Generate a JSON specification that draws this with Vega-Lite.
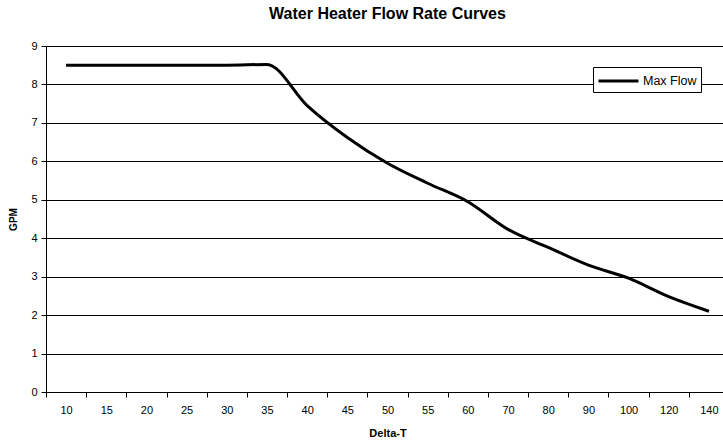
{
  "$schema": "https://vega.github.io/schema/vega-lite/v6.json",
  "width": 683,
  "height": 346,
  "autosize": "none",
  "padding": {"left": 46, "top": 46, "right": 0, "bottom": 48},
  "background": "white",
  "title": {
    "text": "Water Heater Flow Rate Curves",
    "font": "Liberation Sans",
    "fontSize": 16,
    "fontWeight": "bold",
    "color": "black",
    "anchor": "middle",
    "baseline": "alphabetic",
    "offset": 5
  },
  "config": {
    "view": {"stroke": null},
    "axis": {
      "labelFont": "Liberation Sans",
      "labelFontSize": 11,
      "labelColor": "black",
      "titleFont": "Liberation Sans",
      "titleFontSize": 11,
      "titleFontWeight": "bold",
      "titleColor": "black",
      "domainColor": "black",
      "tickColor": "black",
      "tickSize": 5
    }
  },
  "data": {
    "values": [
      {"dt": 10, "gpm": 8.5, "series": "Max Flow"},
      {"dt": 15, "gpm": 8.5, "series": "Max Flow"},
      {"dt": 20, "gpm": 8.5, "series": "Max Flow"},
      {"dt": 25, "gpm": 8.5, "series": "Max Flow"},
      {"dt": 30, "gpm": 8.5, "series": "Max Flow"},
      {"dt": 35, "gpm": 8.52, "series": "Max Flow"},
      {"dt": 40, "gpm": 7.45, "series": "Max Flow"},
      {"dt": 45, "gpm": 6.62, "series": "Max Flow"},
      {"dt": 50, "gpm": 5.95, "series": "Max Flow"},
      {"dt": 55, "gpm": 5.43, "series": "Max Flow"},
      {"dt": 60, "gpm": 4.95, "series": "Max Flow"},
      {"dt": 70, "gpm": 4.23, "series": "Max Flow"},
      {"dt": 80, "gpm": 3.76, "series": "Max Flow"},
      {"dt": 90, "gpm": 3.3, "series": "Max Flow"},
      {"dt": 100, "gpm": 2.96, "series": "Max Flow"},
      {"dt": 120, "gpm": 2.48, "series": "Max Flow"},
      {"dt": 140, "gpm": 2.1, "series": "Max Flow"}
    ]
  },
  "mark": {"type": "line", "interpolate": "monotone", "strokeWidth": 3},
  "encoding": {
    "x": {
      "field": "dt",
      "type": "ordinal",
      "scale": {"type": "band", "paddingInner": 0, "paddingOuter": 0},
      "axis": {
        "title": "Delta-T",
        "labelAngle": 0,
        "tickBand": "extent",
        "grid": false,
        "labelPadding": 7,
        "titleY": 44,
        "titleBaseline": "alphabetic"
      }
    },
    "y": {
      "field": "gpm",
      "type": "quantitative",
      "scale": {"domain": [0, 9], "nice": false},
      "axis": {
        "title": "GPM",
        "titleFontSize": 10,
        "values": [0, 1, 2, 3, 4, 5, 6, 7, 8, 9],
        "grid": true,
        "gridColor": "black",
        "gridOpacity": 1,
        "labelPadding": 4,
        "titleX": -33,
        "titleBaseline": "middle",
        "titleAngle": -90
      }
    },
    "color": {
      "field": "series",
      "type": "nominal",
      "scale": {"domain": ["Max Flow"], "range": ["black"]},
      "legend": {
        "title": null,
        "orient": "none",
        "legendX": 547,
        "legendY": 21,
        "strokeColor": "black",
        "fillColor": "white",
        "padding": 4,
        "symbolType": "M-1,0H3.7",
        "symbolSize": 289,
        "symbolStrokeWidth": 3,
        "labelFont": "Liberation Sans",
        "labelFontSize": 12.5,
        "labelColor": "black",
        "labelOffset": 26
      }
    }
  }
}
